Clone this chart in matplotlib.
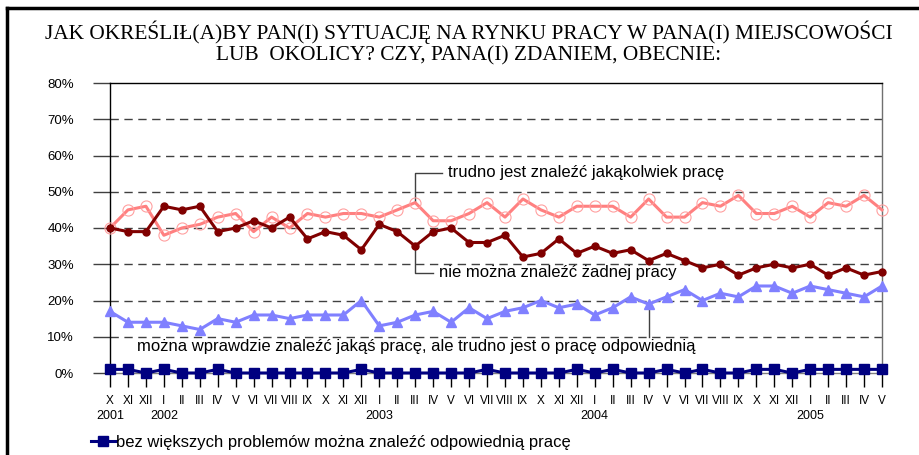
import matplotlib
matplotlib.use('Agg')
import matplotlib.pyplot as plt
from matplotlib.lines import Line2D
import numpy as np

months = ['X', 'XI', 'XII',
          'I', 'II', 'III', 'IV', 'V', 'VI', 'VII', 'VIII', 'IX', 'X', 'XI', 'XII',
          'I', 'II', 'III', 'IV', 'V', 'VI', 'VII', 'VIII', 'IX', 'X', 'XI', 'XII',
          'I', 'II', 'III', 'IV', 'V', 'VI', 'VII', 'VIII', 'IX', 'X', 'XI', 'XII',
          'I', 'II', 'III', 'IV', 'V']
years = {0: '2001', 3: '2002', 15: '2003', 27: '2004', 39: '2005'}

nie_mozna = [40, 39, 39, 46, 45, 46, 39, 40, 42, 40, 43, 37, 39, 38, 34, 41, 39, 35, 39,
             40, 36, 36, 38, 32, 33, 37, 33, 35, 33, 34, 31, 33, 31, 29, 30, 27, 29, 30,
             29, 30, 27, 29, 27, 28]
trudno = [40, 45, 46, 38, 40, 41, 43, 44, 39, 43, 40, 44, 43, 44, 44, 43, 45, 47, 42,
          42, 44, 47, 43, 48, 45, 43, 46, 46, 46, 43, 48, 43, 43, 47, 46, 49, 44, 44,
          46, 43, 47, 46, 49, 45]
wprawdzie = [17, 14, 14, 14, 13, 12, 15, 14, 16, 16, 15, 16, 16, 16, 20, 13, 14, 16, 17,
             14, 18, 15, 17, 18, 20, 18, 19, 16, 18, 21, 19, 21, 23, 20, 22, 21, 24, 24,
             22, 24, 23, 22, 21, 24]
bez_problemow = [1, 1, 0, 1, 0, 0, 1, 0, 0, 0, 0, 0, 0, 0, 1, 0, 0, 0, 0,
                 0, 0, 1, 0, 0, 0, 0, 1, 0, 1, 0, 0, 1, 0, 1, 0, 0, 1, 1,
                 0, 1, 1, 1, 1, 1]

title = ('JAK OKREŚLIŁ(A)BY PAN(I) SYTUACJĘ NA RYNKU PRACY W PANA(I) MIEJSCOWOŚCI\n'
         'LUB  OKOLICY? CZY, PANA(I) ZDANIEM, OBECNIE:')
lbl_trudno = 'trudno jest znaleźć jakąkolwiek pracę'
lbl_nie = 'nie można znaleźć żadnej pracy'
lbl_wpr = 'można wprawdzie znaleźć jakąś pracę, ale trudno jest o pracę odpowiednią'
lbl_bez = 'bez większych problemów można znaleźć odpowiednią pracę'

plt.rcParams['font.family'] = ['Liberation Sans', 'DejaVu Sans']

W, H = 920, 455
fig = plt.figure(figsize=(W / 100, H / 100), dpi=100)
ax = fig.add_axes([110 / W, 1 - 373 / H, (882 - 110) / W, (373 - 83) / H])

x = np.arange(len(months))

ax.plot(x, bez_problemow, color='#000080', lw=2.2, marker='s', ms=7, zorder=5, clip_on=False)
ax.plot(x, wprawdzie, color='#8080FF', lw=2.2, marker='^', ms=7, zorder=4, clip_on=False)
ax.plot(x, nie_mozna, color='#800000', lw=2.2, marker='o', ms=5, zorder=4, clip_on=False)
ax.plot(x, trudno, color='#FF8080', lw=2.2, marker='o', ms=8, mfc='none', mec='#FFA0A0',
        mew=0.8, zorder=3, clip_on=False)

ax.set_xlim(0, len(months) - 1)
ax.set_ylim(0, 80)
ax.set_yticks(range(0, 81, 10))
ax.set_yticklabels([f'{v}%' for v in range(0, 81, 10)], fontsize=9.5)
for v in range(10, 80, 10):
    ax.axhline(v, color='#404040', lw=1, dashes=(6, 4), zorder=1)

# month labels as tick labels, years below them
ax.set_xticks(x)
ax.set_xticklabels(months, fontsize=8.5, va='top')
ax.tick_params(axis='x', length=10, width=1, color='black', pad=6)
ax.tick_params(axis='y', length=12, width=1, color='#404040', pad=14)
for i, yr in years.items():
    ax.annotate(yr, xy=(i, 0), xycoords=('data', 'axes fraction'), xytext=(0, -43),
                textcoords='offset pixels', ha='center', va='center', fontsize=9)

ax.spines['left'].set_color('black')
ax.spines['top'].set_color('black')
ax.spines['right'].set_color('#707070')
ax.spines['bottom'].set_color('#808080')
for s in ax.spines.values():
    s.set_linewidth(1)

# leader lines and labels
ax.plot([17, 17, 18.5], [trudno[17], 55.2, 55.2], color='#404040', lw=1, zorder=2)
ax.text(18.8, 55.2, lbl_trudno, fontsize=12, va='center', ha='left')
ax.plot([17, 17, 18.0], [nie_mozna[17], 27.6, 27.6], color='#404040', lw=1, zorder=2)
ax.text(18.3, 27.6, lbl_nie, fontsize=12, va='center', ha='left')
ax.plot([30, 30], [wprawdzie[30], 10], color='#404040', lw=1, zorder=2)
ax.text(1.5, 7.2, lbl_wpr, fontsize=12, va='center', ha='left')

# legend
handle = Line2D([], [], color='#000080', lw=2.2, marker='s', ms=7)
fig.legend([handle], [lbl_bez], loc='center left', bbox_to_anchor=(76 / W, 1 - 442 / H),
           frameon=False, fontsize=12, handlelength=1.5, handletextpad=0.0)

fig.text(469 / W, 1 - 43 / H, title, family=['Liberation Serif'], fontsize=15.4,
         ha='center', va='center', linespacing=1.2)

# outer frame
fig.add_artist(Line2D([7 / W, 1], [1 - 8 / H, 1 - 8 / H], color='black', lw=2.5))
fig.add_artist(Line2D([7 / W, 7 / W], [0, 1 - 8 / H], color='black', lw=2.5))

fig.savefig('out.png', dpi=100)
